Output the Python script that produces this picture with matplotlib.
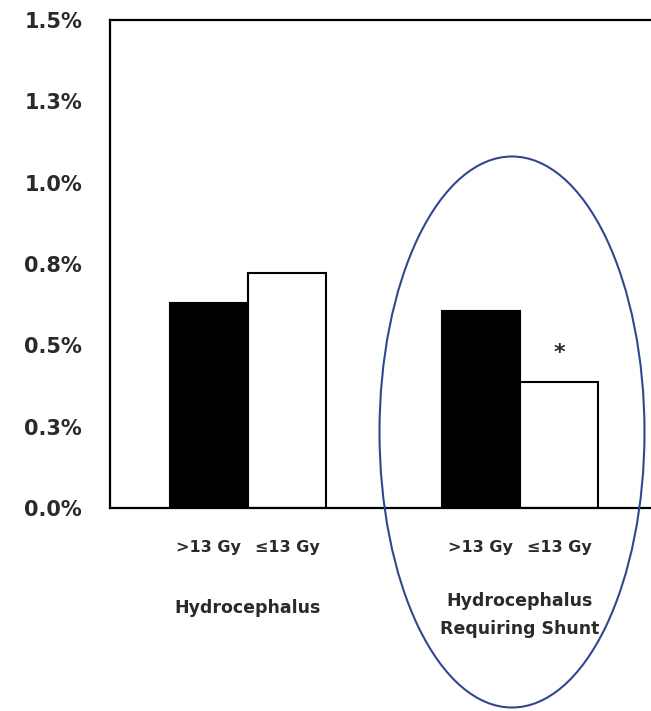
import matplotlib
matplotlib.use("Agg")
import matplotlib.pyplot as plt
from matplotlib.patches import Ellipse

plt.rcParams['font.family'] = ['DejaVu Sans']
plt.rcParams['font.weight'] = 'bold'

# Incidence (%) by dose group
groups = ["Hydrocephalus", "Hydrocephalus\nRequiring Shunt"]
dose_labels = [">13 Gy", "\u226413 Gy"]
above_13 = [0.630, 0.606]
at_or_below_13 = [0.722, 0.387]
significant = [False, True]

y_ticks = [0.0, 0.25, 0.5, 0.75, 1.0, 1.25, 1.5]
y_tick_labels = ["0.0%", "0.3%", "0.5%", "0.8%", "1.0%", "1.3%", "1.5%"]

text_color = "#2a2a2a"

fig = plt.figure(figsize=(6.51, 7.11), dpi=100)
ax = fig.add_axes([0.169, 0.2855, 0.831, 0.6864])

width = 0.287
centers = list(range(len(groups)))
left_x = [c - width / 2 for c in centers]
right_x = [c + width / 2 for c in centers]

ax.bar(left_x, above_13, width=width, color="black", edgecolor="black", linewidth=1.5)
ax.bar(right_x, at_or_below_13, width=width, color="white", edgecolor="black", linewidth=1.5)

for xi, yi, sig in zip(right_x, at_or_below_13, significant):
    if sig:
        ax.annotate("*", (xi, yi), xytext=(0, 14), textcoords="offset points",
                    ha="center", va="bottom", fontsize=16, fontweight="bold",
                    color=text_color)

ax.set_xlim(-0.507, 1.482)
ax.set_ylim(0, 1.5)
ax.set_yticks(y_ticks)
ax.set_yticklabels(y_tick_labels, fontsize=15, color=text_color)
ax.tick_params(axis="y", length=0, pad=20)

ticks = []
tick_text = []
for c in centers:
    ticks += [c - width / 2, c + width / 2]
    tick_text += dose_labels
ax.set_xticks(ticks)
ax.set_xticklabels(tick_text, fontsize=11.5, color=text_color)
ax.tick_params(axis="x", length=0, pad=23)

for c, g in zip(centers, groups):
    n_lines = g.count("\n") + 1
    ax.annotate(g, (c, 0), xycoords=("data", "axes fraction"),
                xytext=(0, -100 if n_lines == 1 else -107), textcoords="offset pixels",
                ha="center", va="center", fontsize=12.5, linespacing=1.7,
                color=text_color)

for side in ("left", "top", "bottom"):
    ax.spines[side].set_linewidth(1.6)
ax.spines["right"].set_visible(False)

# Highlight around the shunt group
ell = Ellipse((512 / 651, 1 - 432 / 711), 265 / 651, 551 / 711,
              transform=fig.transFigure, fill=False, edgecolor="#2E4A8C",
              linewidth=1.5, clip_on=False)
fig.patches.append(ell)

fig.savefig("out.png", dpi=100)
